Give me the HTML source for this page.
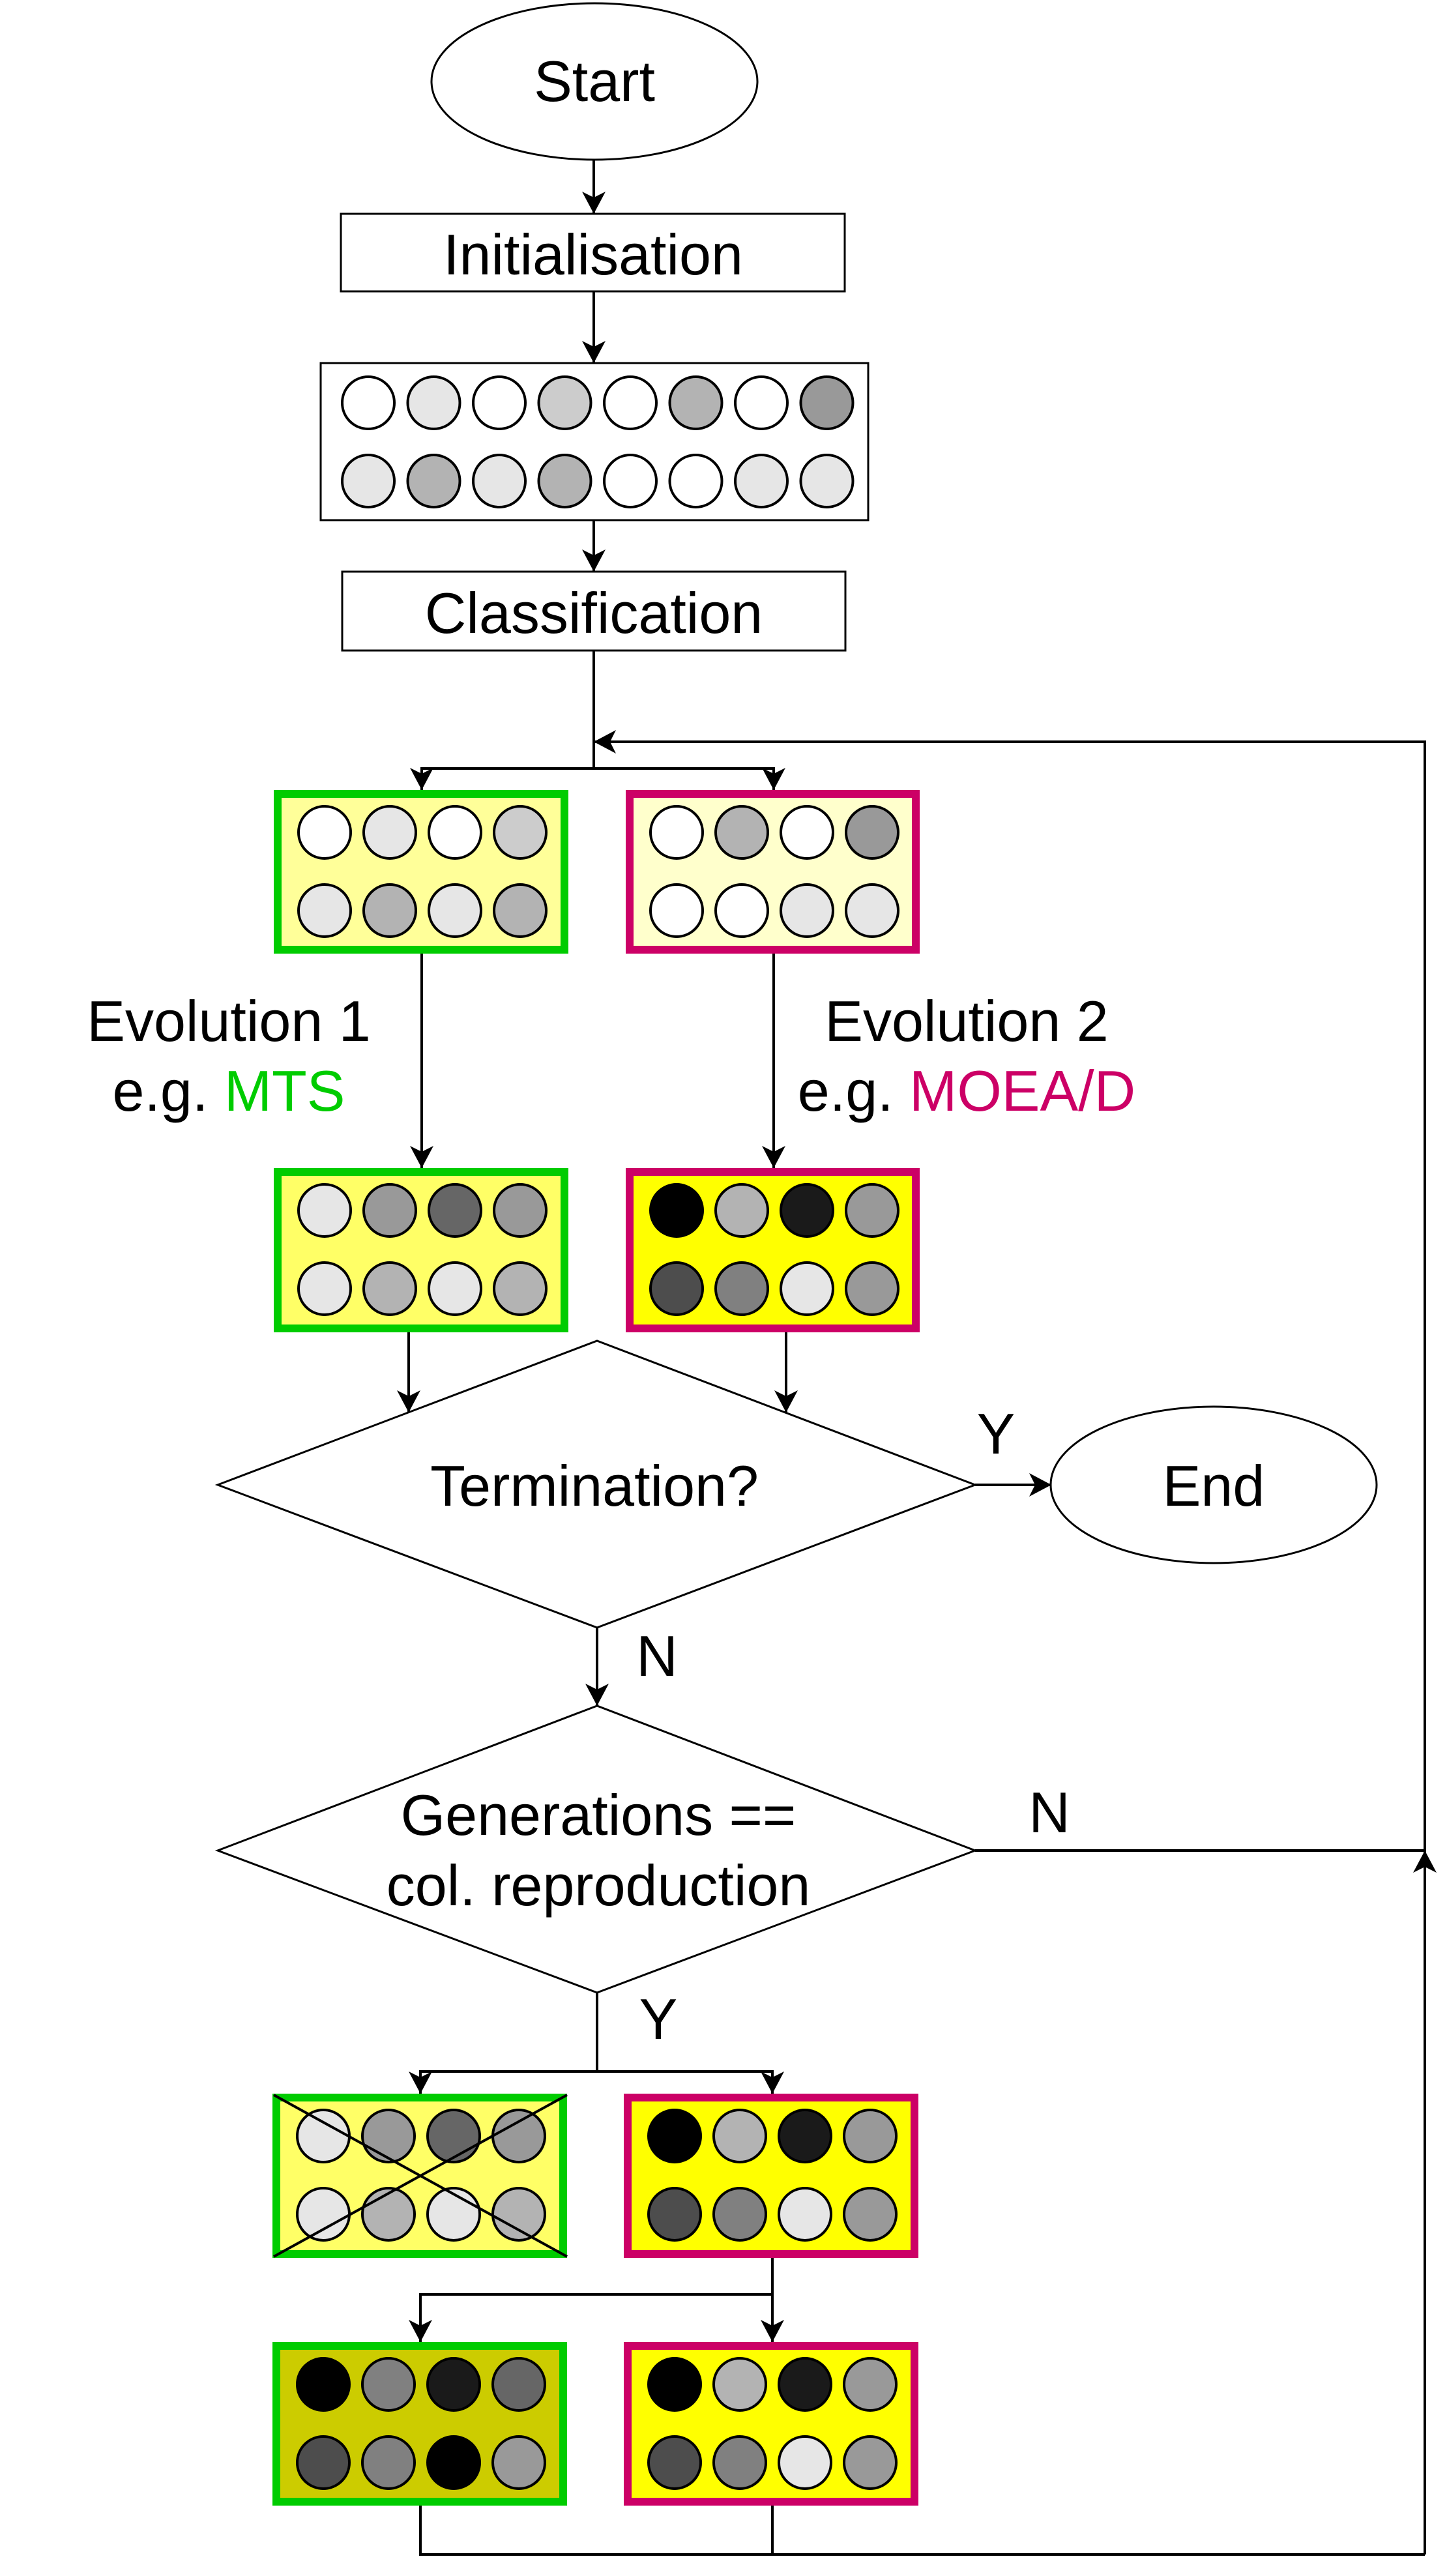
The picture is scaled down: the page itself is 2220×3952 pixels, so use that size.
<!DOCTYPE html>
<html><head><meta charset="utf-8"><style>
html,body{margin:0;padding:0;background:#fff;}
svg{display:block;}
text{font-family:"Liberation Sans",sans-serif;font-size:88px;fill:#000;}
</style></head><body>
<svg width="2220" height="3952" viewBox="0 0 2220 3952" xmlns="http://www.w3.org/2000/svg">
<defs>
<marker id="a" markerUnits="userSpaceOnUse" markerWidth="36" markerHeight="36" refX="34" refY="18" orient="auto">
<path d="M0,0 L34,18 L0,36 L9,18 z" fill="#000"/>
</marker>
</defs>
<g fill="none" stroke="#000" stroke-width="4">
<!-- Start -->
<ellipse cx="912" cy="125" rx="250" ry="120" stroke-width="3"/>
<line x1="911" y1="245" x2="911" y2="328" marker-end="url(#a)"/>
<rect x="523" y="328" width="773" height="119" stroke-width="3"/>
<line x1="911" y1="447" x2="911" y2="557" marker-end="url(#a)"/>
<rect x="492" y="557" width="840" height="241" stroke-width="3"/>
<line x1="911" y1="798" x2="911" y2="877" marker-end="url(#a)"/>
<rect x="525" y="877" width="772" height="121" stroke-width="3"/>
<!-- classification down and split -->
<polyline points="911,998 911,1179"/>
<polyline points="911,1179 647,1179 647,1212" marker-end="url(#a)"/>
<polyline points="911,1179 1187,1179 1187,1212" marker-end="url(#a)"/>
<!-- loop -->
<polyline points="2186,3919 2186,1138 911,1138" marker-end="url(#a)"/>
<!-- evolution arrows -->
<line x1="647" y1="1463" x2="647" y2="1792" marker-end="url(#a)"/>
<line x1="1187" y1="1463" x2="1187" y2="1792" marker-end="url(#a)"/>
<line x1="627" y1="2044" x2="627" y2="2167" marker-end="url(#a)"/>
<line x1="1206" y1="2044" x2="1206" y2="2167" marker-end="url(#a)"/>
<!-- diamond 1 -->
<polygon points="334,2278 916,2057 1496,2278 916,2497" stroke-width="3"/>
<line x1="1496" y1="2278" x2="1613" y2="2278" marker-end="url(#a)"/>
<ellipse cx="1862" cy="2278" rx="250" ry="120" stroke-width="3"/>
<line x1="916" y1="2497" x2="916" y2="2617" marker-end="url(#a)"/>
<!-- diamond 2 -->
<polygon points="334,2839 916,2617 1496,2839 916,3057" stroke-width="3"/>
<line x1="1496" y1="2839" x2="2186" y2="2839"/>
<line x1="2186" y1="2920" x2="2186" y2="2839" marker-end="url(#a)"/>
<polyline points="916,3057 916,3178"/>
<polyline points="916,3178 645,3178 645,3212" marker-end="url(#a)"/>
<polyline points="916,3178 1185,3178 1185,3212" marker-end="url(#a)"/>
<!-- lower -->
<polyline points="1185,3464 1185,3520"/>
<polyline points="1185,3520 645,3520 645,3593" marker-end="url(#a)"/>
<line x1="1185" y1="3520" x2="1185" y2="3593" marker-end="url(#a)"/>
<polyline points="645,3844 645,3919 2186,3919"/>
<line x1="1185" y1="3844" x2="1185" y2="3919"/>
</g>

<!-- population circles -->
<g stroke="#000" stroke-width="4">
<circle cx="565" cy="618" r="40" fill="#fff"/>
<circle cx="665.5" cy="618" r="40" fill="#e6e6e6"/>
<circle cx="766" cy="618" r="40" fill="#fff"/>
<circle cx="866.5" cy="618" r="40" fill="#ccc"/>
<circle cx="967" cy="618" r="40" fill="#fff"/>
<circle cx="1067.5" cy="618" r="40" fill="#b3b3b3"/>
<circle cx="1168" cy="618" r="40" fill="#fff"/>
<circle cx="1268.5" cy="618" r="40" fill="#999"/>
<circle cx="565" cy="738" r="40" fill="#e6e6e6"/>
<circle cx="665.5" cy="738" r="40" fill="#b3b3b3"/>
<circle cx="766" cy="738" r="40" fill="#e6e6e6"/>
<circle cx="866.5" cy="738" r="40" fill="#b3b3b3"/>
<circle cx="967" cy="738" r="40" fill="#fff"/>
<circle cx="1067.5" cy="738" r="40" fill="#fff"/>
<circle cx="1168" cy="738" r="40" fill="#e6e6e6"/>
<circle cx="1268.5" cy="738" r="40" fill="#e6e6e6"/>
</g>

<!-- group boxes: function-like repeated -->
<!-- Box TL -->
<g stroke-width="4" stroke="#000">
<rect x="426" y="1218" width="440" height="239" fill="#ffff99" stroke="#00cc00" stroke-width="12"/>
<circle cx="498" cy="1277" r="40" fill="#fff"/><circle cx="598" cy="1277" r="40" fill="#e6e6e6"/><circle cx="698" cy="1277" r="40" fill="#fff"/><circle cx="798" cy="1277" r="40" fill="#ccc"/>
<circle cx="498" cy="1397" r="40" fill="#e6e6e6"/><circle cx="598" cy="1397" r="40" fill="#b3b3b3"/><circle cx="698" cy="1397" r="40" fill="#e6e6e6"/><circle cx="798" cy="1397" r="40" fill="#b3b3b3"/>

<rect x="966" y="1218" width="439" height="239" fill="#ffffcc" stroke="#cc0066" stroke-width="12"/>
<circle cx="1038" cy="1277" r="40" fill="#fff"/><circle cx="1138" cy="1277" r="40" fill="#b3b3b3"/><circle cx="1238" cy="1277" r="40" fill="#fff"/><circle cx="1338" cy="1277" r="40" fill="#999"/>
<circle cx="1038" cy="1397" r="40" fill="#fff"/><circle cx="1138" cy="1397" r="40" fill="#fff"/><circle cx="1238" cy="1397" r="40" fill="#e6e6e6"/><circle cx="1338" cy="1397" r="40" fill="#e6e6e6"/>

<!-- mid -->
<rect x="426" y="1798" width="440" height="240" fill="#ffff66" stroke="#00cc00" stroke-width="12"/>
<circle cx="498" cy="1857" r="40" fill="#e6e6e6"/><circle cx="598" cy="1857" r="40" fill="#999"/><circle cx="698" cy="1857" r="40" fill="#666"/><circle cx="798" cy="1857" r="40" fill="#999"/>
<circle cx="498" cy="1977" r="40" fill="#e6e6e6"/><circle cx="598" cy="1977" r="40" fill="#b3b3b3"/><circle cx="698" cy="1977" r="40" fill="#e6e6e6"/><circle cx="798" cy="1977" r="40" fill="#b3b3b3"/>

<rect x="966" y="1798" width="439" height="240" fill="#ffff00" stroke="#cc0066" stroke-width="12"/>
<circle cx="1038" cy="1857" r="40" fill="#000"/><circle cx="1138" cy="1857" r="40" fill="#b3b3b3"/><circle cx="1238" cy="1857" r="40" fill="#1a1a1a"/><circle cx="1338" cy="1857" r="40" fill="#999"/>
<circle cx="1038" cy="1977" r="40" fill="#4d4d4d"/><circle cx="1138" cy="1977" r="40" fill="#808080"/><circle cx="1238" cy="1977" r="40" fill="#e6e6e6"/><circle cx="1338" cy="1977" r="40" fill="#999"/>

<!-- lower pair -->
<rect x="424" y="3218" width="440" height="240" fill="#ffff66" stroke="#00cc00" stroke-width="12"/>
<circle cx="496" cy="3277" r="40" fill="#e6e6e6"/><circle cx="596" cy="3277" r="40" fill="#999"/><circle cx="696" cy="3277" r="40" fill="#666"/><circle cx="796" cy="3277" r="40" fill="#999"/>
<circle cx="496" cy="3397" r="40" fill="#e6e6e6"/><circle cx="596" cy="3397" r="40" fill="#b3b3b3"/><circle cx="696" cy="3397" r="40" fill="#e6e6e6"/><circle cx="796" cy="3397" r="40" fill="#b3b3b3"/>
<line x1="420" y1="3214" x2="870" y2="3462" stroke-width="4"/>
<line x1="870" y1="3214" x2="420" y2="3462" stroke-width="4"/>

<rect x="963" y="3218" width="440" height="240" fill="#ffff00" stroke="#cc0066" stroke-width="12"/>
<circle cx="1035" cy="3277" r="40" fill="#000"/><circle cx="1135" cy="3277" r="40" fill="#b3b3b3"/><circle cx="1235" cy="3277" r="40" fill="#1a1a1a"/><circle cx="1335" cy="3277" r="40" fill="#999"/>
<circle cx="1035" cy="3397" r="40" fill="#4d4d4d"/><circle cx="1135" cy="3397" r="40" fill="#808080"/><circle cx="1235" cy="3397" r="40" fill="#e6e6e6"/><circle cx="1335" cy="3397" r="40" fill="#999"/>

<!-- bottom pair -->
<rect x="424" y="3599" width="440" height="239" fill="#cccc00" stroke="#00cc00" stroke-width="12"/>
<circle cx="496" cy="3658" r="40" fill="#000"/><circle cx="596" cy="3658" r="40" fill="#808080"/><circle cx="696" cy="3658" r="40" fill="#1a1a1a"/><circle cx="796" cy="3658" r="40" fill="#666"/>
<circle cx="496" cy="3778" r="40" fill="#4d4d4d"/><circle cx="596" cy="3778" r="40" fill="#808080"/><circle cx="696" cy="3778" r="40" fill="#000"/><circle cx="796" cy="3778" r="40" fill="#999"/>

<rect x="963" y="3599" width="440" height="239" fill="#ffff00" stroke="#cc0066" stroke-width="12"/>
<circle cx="1035" cy="3658" r="40" fill="#000"/><circle cx="1135" cy="3658" r="40" fill="#b3b3b3"/><circle cx="1235" cy="3658" r="40" fill="#1a1a1a"/><circle cx="1335" cy="3658" r="40" fill="#999"/>
<circle cx="1035" cy="3778" r="40" fill="#4d4d4d"/><circle cx="1135" cy="3778" r="40" fill="#808080"/><circle cx="1235" cy="3778" r="40" fill="#e6e6e6"/><circle cx="1335" cy="3778" r="40" fill="#999"/>
</g>

<!-- text -->
<g text-anchor="middle">
<text x="912" y="155">Start</text>
<text x="910" y="421">Initialisation</text>
<text x="911" y="971">Classification</text>
<text x="351" y="1597">Evolution 1</text>
<text x="351" y="1704">e.g. <tspan fill="#00cc00">MTS</tspan></text>
<text x="1483" y="1597">Evolution 2</text>
<text x="1483" y="1704">e.g. <tspan fill="#cc0066">MOEA/D</tspan></text>
<text x="912" y="2310">Termination?</text>
<text x="1862" y="2310">End</text>
<text x="1528" y="2230">Y</text>
<text x="1008" y="2571">N</text>
<text x="918" y="2815">Generations ==</text>
<text x="918" y="2923">col. reproduction</text>
<text x="1610" y="2811">N</text>
<text x="1010" y="3128">Y</text>
</g>
</svg>
</body></html>
